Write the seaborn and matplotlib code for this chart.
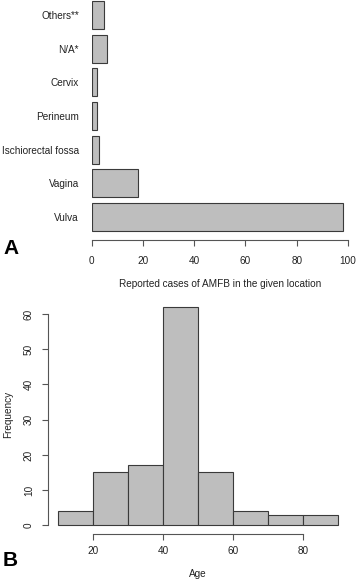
#!/usr/bin/env python3

# plot.py
#
# AMFB case locations (A) and age distribution (B), R base-graphics look.
import matplotlib
matplotlib.use('Agg')
import matplotlib.pyplot as plt
import numpy as np
import pandas as pd
import seaborn as sb

# Panel A - reported cases by location (top to bottom)
locations = ['Others**', 'N/A*', 'Cervix', 'Perineum', 'Ischiorectal fossa', 'Vagina', 'Vulva']
cases = [5, 6, 2, 2, 3, 18, 98]
case_ticks = [0, 20, 40, 60, 80, 100]

# Panel B - age histogram
age_edges = [10, 20, 30, 40, 50, 60, 70, 80, 90]
age_counts = [4, 15, 17, 62, 15, 4, 3, 3]
age_ticks = [20, 40, 60, 80]
freq_ticks = [0, 10, 20, 30, 40, 50, 60]

FILL, EDGE = '#bebebe', '#3a3a3a'
TEXT = '#222222'
SIZE = 7.2
W, H = 358, 580


def rect(left, top, right, bottom):
    # Pixel box -> figure fraction
    return [left / W, 1 - bottom / H, (right - left) / W, (bottom - top) / H]


def main():
    sb.set_style('white')
    plt.rcParams['font.family'] = ['Liberation Sans', 'DejaVu Sans']
    plt.rcParams['font.size'] = SIZE
    plt.rcParams['text.color'] = TEXT
    plt.rcParams['xtick.labelcolor'] = TEXT
    plt.rcParams['ytick.labelcolor'] = TEXT
    figure = plt.figure(figsize=(W / 100, H / 100), dpi=100)

    # Panel A
    axis = figure.add_axes(rect(91.5, 0, 348, 240))
    data = pd.DataFrame({'location': locations, 'cases': cases})
    sb.barplot(data=data, x='cases', y='location', order=locations, orient='h',
               color=FILL, edgecolor=EDGE, linewidth=0.8, width=0.833,
               saturation=1, ax=axis)
    axis.set_xlim(0, 100)
    axis.set_ylim(6.6875, -0.452)
    sb.despine(ax=axis, left=True, top=True, right=True)
    axis.spines['bottom'].set_bounds(0, 100)
    axis.spines['bottom'].set_color('#555555')
    axis.spines['bottom'].set_linewidth(0.8)
    axis.set_xticks(case_ticks)
    axis.tick_params(axis='x', bottom=True, length=4, width=0.8, color='#555555',
                     pad=7.5, labelsize=SIZE)
    axis.tick_params(axis='y', left=False, length=0, pad=9, labelsize=SIZE)
    axis.set_xlabel('')
    axis.set_ylabel('')
    figure.text(220 / W, 1 - 284 / H, 'Reported cases of AMFB in the given location',
                ha='center', va='center', fontsize=SIZE)
    figure.text(3 / W, 1 - 249 / H, 'A', ha='left', va='center', fontsize=15,
                fontweight='bold', family='Liberation Sans', color='black')

    # Panel B
    axis = figure.add_axes(rect(47.7, 300, 345, 534.3))
    mids = [(a + b) / 2 for a, b in zip(age_edges[:-1], age_edges[1:])]
    sb.histplot(x=mids, weights=age_counts, bins=age_edges, color=FILL,
                edgecolor=EDGE, linewidth=0.8, alpha=1, ax=axis)
    axis.set_xlim(6.93, 92.1)
    axis.set_ylim(-2.56, 64.0)
    sb.despine(ax=axis, top=True, right=True)
    axis.spines['left'].set_bounds(0, 60)
    axis.spines['bottom'].set_bounds(20, 80)
    for side in ['left', 'bottom']:
        axis.spines[side].set_color('#555555')
        axis.spines[side].set_linewidth(0.8)
    axis.set_xticks(age_ticks)
    axis.set_yticks(freq_ticks)
    axis.set_yticklabels([str(t) for t in freq_ticks], rotation=90, va='center')
    axis.tick_params(axis='both', bottom=True, left=True, length=4, width=0.8,
                     color='#555555', labelsize=SIZE)
    axis.tick_params(axis='x', pad=4.5)
    axis.tick_params(axis='y', pad=6)
    axis.set_xlabel('')
    axis.set_ylabel('')
    figure.text(198 / W, 1 - 574 / H, 'Age', ha='center', va='center', fontsize=SIZE)
    figure.text(8.5 / W, 1 - 414 / H, 'Frequency', ha='center', va='center',
                rotation=90, fontsize=SIZE)
    figure.text(3 / W, 1 - 561 / H, 'B', ha='left', va='center', fontsize=15,
                fontweight='bold', family='Liberation Sans', color='black')

    plt.savefig('out.png', dpi=100)
    plt.close()


if __name__ == '__main__':
    main()
